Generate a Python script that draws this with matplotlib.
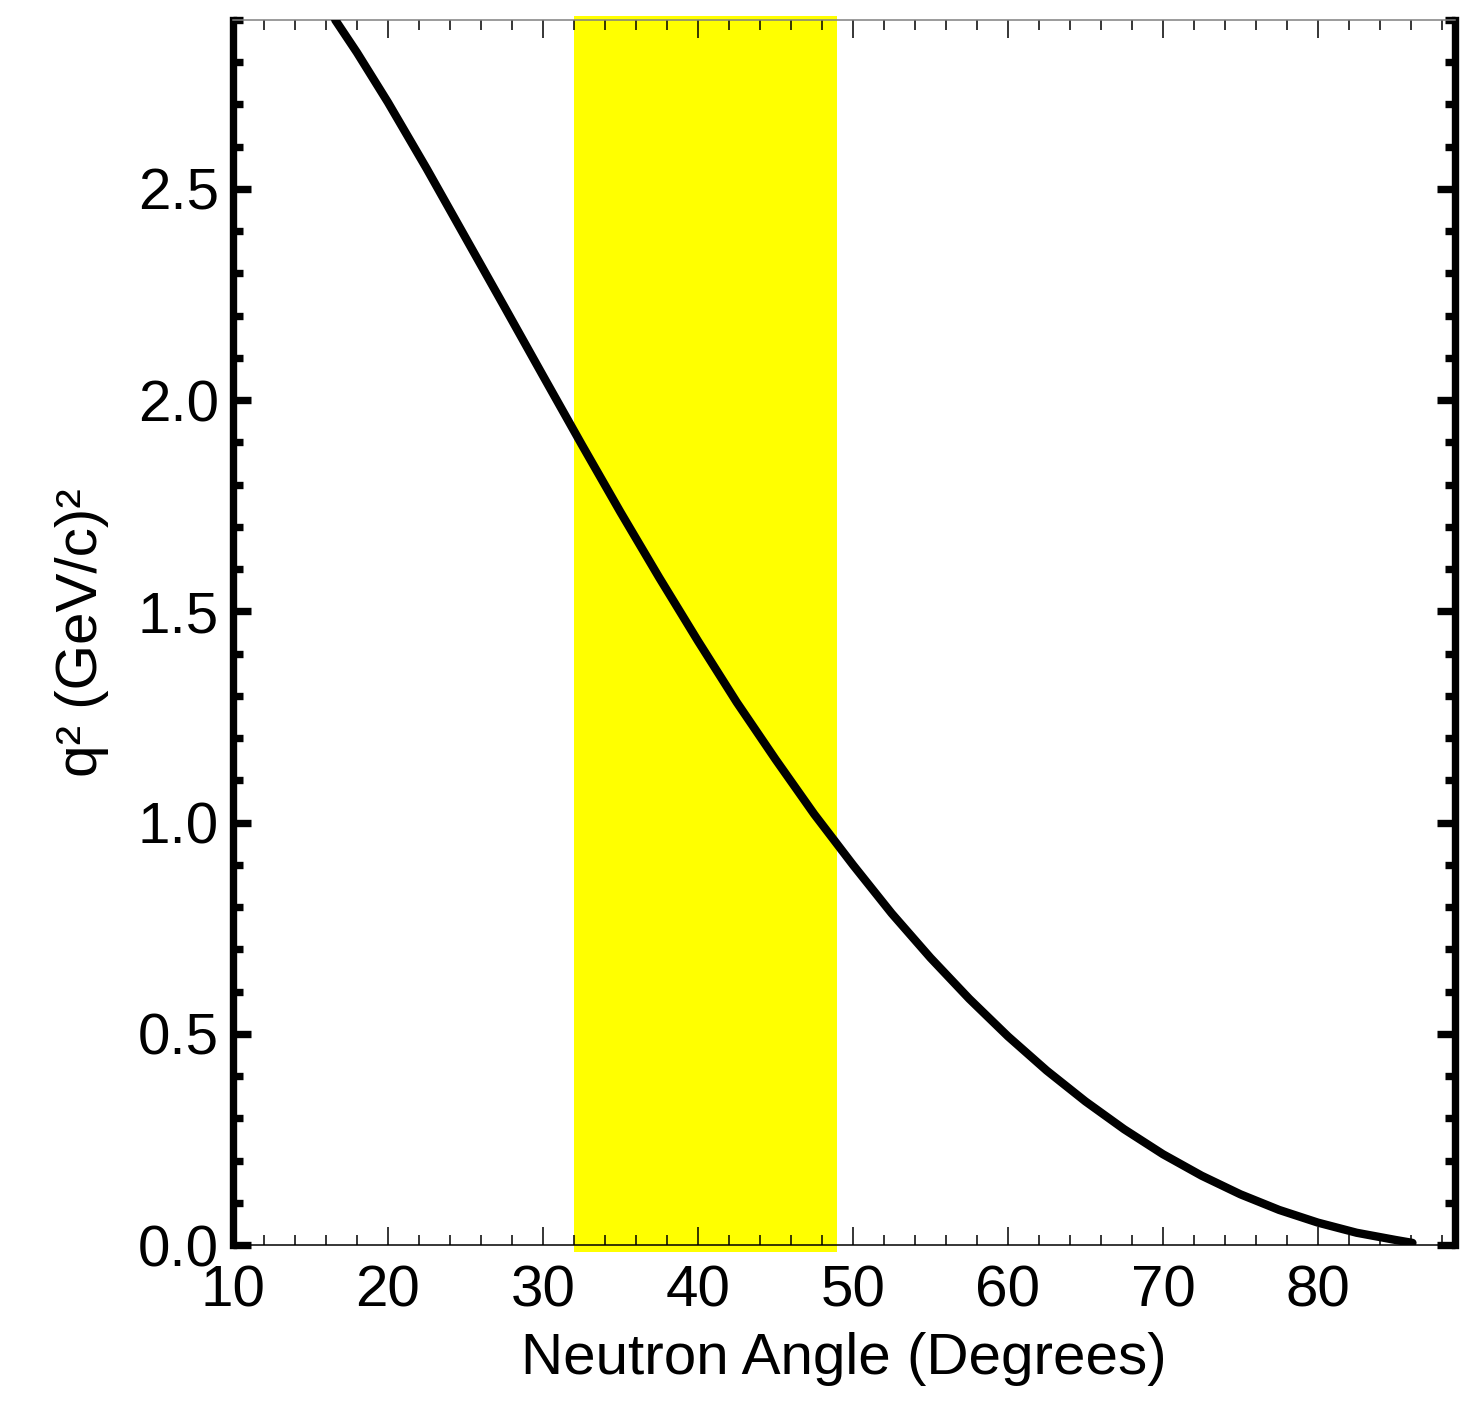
import numpy as np
import matplotlib.pyplot as plt
from matplotlib.ticker import MultipleLocator

plt.rcParams['font.family'] = ['Liberation Sans', 'DejaVu Sans']

# curve
angle = [16.6, 18.0, 20.0, 22.5, 25.0, 27.5, 30.0, 32.5, 35.0, 37.5,
         40.0, 42.5, 45.0, 47.5, 50.0, 52.5, 55.0, 57.5, 60.0, 62.5,
         65.0, 67.5, 70.0, 72.5, 75.0, 77.5, 80.0, 82.5, 85.0, 86.1]
q2 = [2.90, 2.823, 2.705, 2.548, 2.385, 2.222, 2.058, 1.895, 1.735, 1.58,
      1.43, 1.285, 1.15, 1.02, 0.90, 0.785, 0.68, 0.583, 0.494, 0.413,
      0.34, 0.274, 0.215, 0.164, 0.12, 0.083, 0.053, 0.029, 0.012, 0.005]

band_lo, band_hi = 32, 49
xmin, xmax = 10, 88.85
ymin, ymax = 0, 2.9

fig = plt.figure(figsize=(14.81, 14.18), dpi=100)
ax = fig.add_axes([0.1573, 0.1220, 0.9825 - 0.1573, 0.9859 - 0.1220])

ax.axvspan(band_lo, band_hi, ymin=-0.006, ymax=1.003, color='#ffff00',
           lw=0, zorder=1, clip_on=False)
ax.plot(angle, q2, color='black', lw=6, solid_capstyle='round',
        solid_joinstyle='round', zorder=3)

ax.set_xlim(xmin, xmax)
ax.set_ylim(ymin, ymax)

ax.xaxis.set_major_locator(MultipleLocator(10))
ax.xaxis.set_minor_locator(MultipleLocator(2))
ax.yaxis.set_major_locator(MultipleLocator(0.5))
ax.yaxis.set_minor_locator(MultipleLocator(0.1))
ax.yaxis.set_major_formatter(plt.FormatStrFormatter('%.1f'))

# thick left/right frame, thin top/bottom
for side in ['left', 'right']:
    ax.spines[side].set_linewidth(5.3)
    ax.spines[side].set_color('black')
ax.spines['bottom'].set_linewidth(1.1)
ax.spines['top'].set_linewidth(1.1)
ax.spines['top'].set_color('#808080')

ax.tick_params(axis='y', which='both', direction='in', left=True, right=True,
               width=5.3, color='black', labelsize=42, pad=10)
ax.tick_params(axis='y', which='major', length=13)
ax.tick_params(axis='y', which='minor', length=7.5)
ax.tick_params(axis='x', which='both', direction='in', bottom=True, top=True,
               width=1.1, color='black', labelsize=42, pad=14)
ax.tick_params(axis='x', which='major', length=13)
ax.tick_params(axis='x', which='minor', length=7.5)
# top ticks are grey like the top frame line
for tk in ax.xaxis.get_major_ticks() + ax.xaxis.get_minor_ticks():
    tk.tick2line.set_color('#808080')

ax.set_xlabel('Neutron Angle (Degrees)', fontsize=42, labelpad=10)
ax.set_ylabel('q² (GeV/c)²', fontsize=42, labelpad=21)

fig.savefig('out.png', dpi=100)
